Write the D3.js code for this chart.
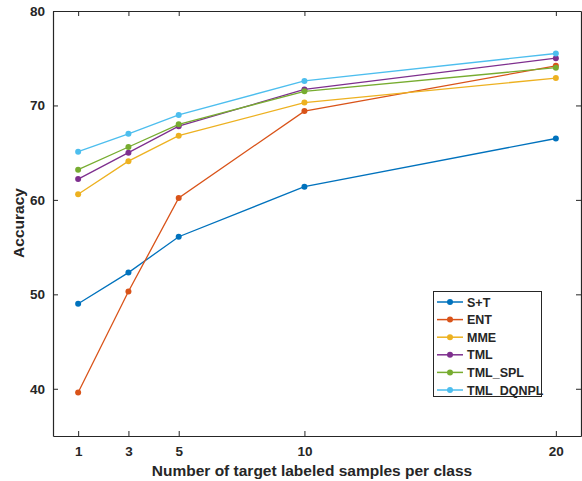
<!DOCTYPE html>
<html><head><meta charset="utf-8">
<script src="https://cdn.jsdelivr.net/npm/d3@7"></script>
<style>body{margin:0;background:#fff}svg{display:block}text{font-family:"Liberation Sans",Arial,sans-serif;font-weight:bold;fill:#262626}</style>
</head><body><svg id="c" width="582" height="481"></svg>
<script>
const xs = [1, 3, 5, 10, 20];
const seriesNames = ["S+T", "ENT", "MME", "TML", "TML_SPL", "TML_DQNPL"];
const sT = [49.0, 52.3, 56.1, 61.4, 66.5];
const ent = [39.6, 50.3, 60.2, 69.4, 74.2];
const mme = [60.6, 64.1, 66.8, 70.3, 72.9];
const tml = [62.2, 65.0, 67.8, 71.7, 75.0];
const tmlSpl = [63.2, 65.6, 68.0, 71.5, 74.0];
const tmlDqnpl = [65.1, 67.0, 69.0, 72.6, 75.5];
const yTicks = [40, 50, 60, 70, 80];
const colors = ["#0072BD", "#D95319", "#EDB120", "#7E2F8E", "#77AC30", "#4DBEEE"];
const allSeries = [sT, ent, mme, tml, tmlSpl, tmlDqnpl];

const svg = d3.select("#c");
const L = 53, R = 581, T = 11, B = 436;
const x = d3.scaleLinear().domain([0, 21]).range([L, R]);
const y = d3.scaleLinear().domain([35, 80]).range([B, T]);
const axCol = "#262626";

// axes
const gx = svg.append("g").attr("transform", `translate(0,${B})`)
  .call(d3.axisBottom(x).tickValues(xs).tickSizeInner(-5).tickSizeOuter(0).tickPadding(10));
const gxt = svg.append("g").attr("transform", `translate(0,${T})`)
  .call(d3.axisTop(x).tickValues(xs).tickSizeInner(-5).tickSizeOuter(0).tickFormat(""));
const gy = svg.append("g").attr("transform", `translate(${L},0)`)
  .call(d3.axisLeft(y).tickValues(yTicks).tickSizeInner(-5).tickSizeOuter(0).tickPadding(8));
const gyr = svg.append("g").attr("transform", `translate(${R},0)`)
  .call(d3.axisRight(y).tickValues(yTicks).tickSizeInner(-5).tickSizeOuter(0).tickFormat(""));
[gx, gxt, gy, gyr].forEach(g => {
  g.select(".domain").attr("stroke", axCol).attr("stroke-width", 1.2);
  g.selectAll(".tick line").attr("stroke", axCol).attr("stroke-width", 1);
  g.selectAll(".tick text").attr("font-size", 13.5).attr("fill", axCol)
    .attr("font-family", '"Liberation Sans",Arial,sans-serif').attr("font-weight", "bold");
});

// lines
const line = d3.line().x((d, i) => x(xs[i])).y(d => y(d));
allSeries.forEach((s, k) => {
  svg.append("path").datum(s).attr("d", line).attr("fill", "none")
    .attr("stroke", colors[k]).attr("stroke-width", 1.3);
  svg.selectAll(null).data(s).enter().append("circle")
    .attr("cx", (d, i) => x(xs[i])).attr("cy", d => y(d)).attr("r", 3)
    .attr("fill", colors[k]);
});

// axis titles
svg.append("text").attr("x", 312).attr("y", 476).attr("text-anchor", "middle")
  .attr("font-size", 15.5).text("Number of target labeled samples per class");
svg.append("text").attr("transform", `translate(24,223) rotate(-90)`)
  .attr("text-anchor", "middle").attr("font-size", 15.5).text("Accuracy");

// legend
const lg = svg.append("g");
lg.append("rect").attr("x", 433.5).attr("y", 291.5).attr("width", 108).attr("height", 105)
  .attr("fill", "#fff").attr("stroke", axCol).attr("stroke-width", 1);
seriesNames.forEach((n, k) => {
  const yy = 302 + k * 17.6;
  lg.append("line").attr("x1", 437).attr("x2", 463).attr("y1", yy).attr("y2", yy)
    .attr("stroke", colors[k]).attr("stroke-width", 1.5);
  lg.append("circle").attr("cx", 450).attr("cy", yy).attr("r", 3).attr("fill", colors[k]);
  lg.append("text").attr("x", 467).attr("y", yy + 4.5).attr("font-size", 12.5).text(n);
});
</script></body></html>
